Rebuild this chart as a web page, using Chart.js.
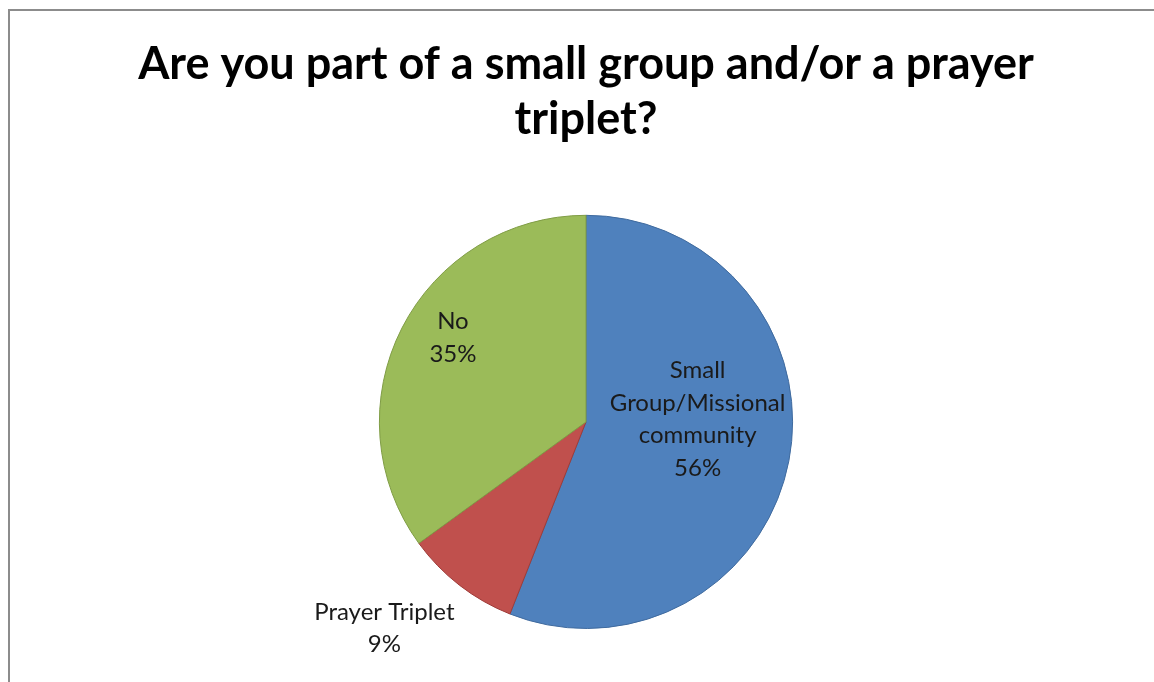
<!DOCTYPE html>
<html>
<head>
<meta charset="utf-8">
<script src="https://cdn.jsdelivr.net/npm/chart.js@4.4.1/dist/chart.umd.min.js"></script>
<style>
  html, body { margin: 0; padding: 0; background: #ffffff; }
  #wrap { position: relative; width: 1154px; height: 682px; overflow: hidden; }
  #marco { position: absolute; left: 8px; top: 9px; width: 1160px; height: 690px;
           border-left: 2px solid #8c8c8c; border-top: 2px solid #8c8c8c; }
  canvas { position: absolute; left: 0; top: 0; }
</style>
</head>
<body>
<div id="wrap">
  <div id="marco"></div>
  <canvas id="grafico" width="1154" height="682"></canvas>
</div>
<script>
// Datos del gráfico
const categorias = ['Small Group/Missional community', 'Prayer Triplet', 'No'];
const valores = [56, 9, 35];
const etiquetas = [['Small', 'Group/Missional', 'community', '56%'], ['Prayer Triplet', '9%'], ['No', '35%']];
const colores = ['#4f81bd', '#c0504d', '#9bbb59'];
const bordes = ['#3f6a9e', '#9e3b38', '#7f9c45'];
const titulo = ['Are you part of a small group and/or a prayer', 'triplet?'];

// Posición de cada etiqueta: fracción del radio sobre el ángulo medio + ajuste
const ajusteEtiquetas = [
    { r: 0.55, dx: 0, dy: -24 },
    { r: 1.30, dx: -37, dy: -6 },
    { r: 0.75, dx: 5, dy: -14 }
];

// Plugin para dibujar las etiquetas de datos
const pluginEtiquetas = {
    id: 'etiquetas',
    afterDatasetsDraw(chart) {
        const ctx = chart.ctx;
        const meta = chart.getDatasetMeta(0);
        ctx.save();
        ctx.font = '24px Lato';
        ctx.fillStyle = '#1a1a1a';
        ctx.textAlign = 'center';
        ctx.textBaseline = 'middle';
        meta.data.forEach((arc, i) => {
            const p = arc.getProps(['x', 'y', 'startAngle', 'endAngle', 'outerRadius']);
            const medio = (p.startAngle + p.endAngle) / 2;
            const aj = ajusteEtiquetas[i];
            const cx = p.x + Math.cos(medio) * p.outerRadius * aj.r + aj.dx;
            const cy = p.y + Math.sin(medio) * p.outerRadius * aj.r + aj.dy;
            const lineas = etiquetas[i];
            const alto = 32.5;
            lineas.forEach((linea, j) => {
                ctx.fillText(linea, cx, cy + (j - (lineas.length - 1) / 2) * alto);
            });
        });
        ctx.restore();
    }
};

const ctx = document.getElementById('grafico').getContext('2d');
const grafico = new Chart(ctx, {
    type: 'pie',
    data: {
        labels: categorias,
        datasets: [{
            data: valores,
            backgroundColor: colores,
            borderColor: bordes,
            borderWidth: 1
        }]
    },
    options: {
        responsive: false,
        animation: false,
        layout: { padding: { left: 18, right: 0, top: 0, bottom: 53 } },
        plugins: {
            legend: { display: false },
            tooltip: { enabled: false },
            title: {
                display: true,
                text: titulo,
                color: '#000000',
                font: { family: 'Lato', size: 45, weight: 'bold', lineHeight: 1.22 },
                padding: { top: 37, bottom: 68 }
            }
        }
    },
    plugins: [pluginEtiquetas]
});
</script>
</body>
</html>
